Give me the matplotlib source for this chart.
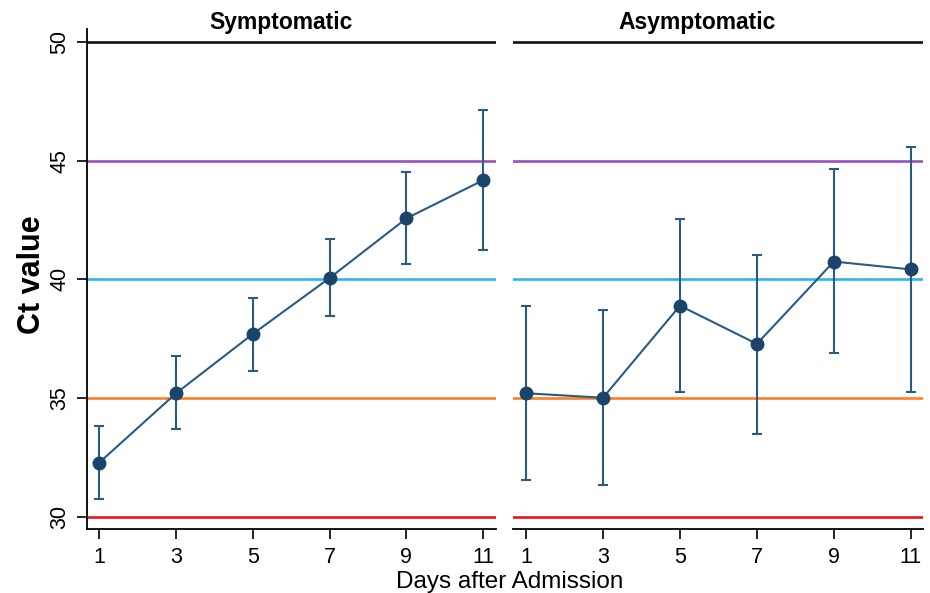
import matplotlib
matplotlib.use("Agg")
import matplotlib.pyplot as plt

plt.rcParams['font.family'] = ['Liberation Sans', 'DejaVu Sans']

days = [1, 3, 5, 7, 9, 11]
panels = ["Symptomatic", "Asymptomatic"]
sym_mean = [32.28, 35.20, 37.70, 40.06, 42.57, 44.18]
sym_low = [30.73, 33.68, 36.14, 38.46, 40.63, 41.25]
sym_high = [33.82, 36.77, 39.23, 41.70, 44.51, 47.15]
asym_mean = [35.20, 35.01, 38.89, 37.28, 40.75, 40.42]
asym_low = [31.55, 31.35, 35.24, 33.50, 36.91, 35.24]
asym_high = [38.89, 38.71, 42.53, 41.03, 44.67, 45.59]
ref_levels = [30, 35, 40, 45, 50]
ref_colors = ["#e8141c", "#ff7f27", "#29b6f6", "#9a4fc4", "#111111"]
y_ticks = [30, 35, 40, 45, 50]

fig = plt.figure(figsize=(9.3, 5.93), dpi=100)
ax1 = fig.add_axes([0.0932, 0.108, 0.440, 0.843])
ax2 = fig.add_axes([0.552, 0.108, 0.441, 0.843])

line_c = "#2b5a85"
mark_c = "#1b446b"

data = [(sym_mean, sym_low, sym_high), (asym_mean, asym_low, asym_high)]
for ax, (m, lo, hi), title in zip([ax1, ax2], data, panels):
    for lev, c in zip(ref_levels, ref_colors):
        ax.axhline(lev, color=c, lw=1.9, zorder=1)
    yerr = [[mi - l for mi, l in zip(m, lo)], [h - mi for mi, h in zip(m, hi)]]
    ax.errorbar(days, m, yerr=yerr, fmt='none', ecolor=line_c, elinewidth=1.5,
                capsize=3.5, capthick=1.5, zorder=3)
    ax.plot(days, m, color=line_c, lw=1.5, zorder=4)
    ax.plot(days, m, 'o', color=mark_c, ms=9, zorder=5)
    ax.set_xlim(0.67, 11.33)
    ax.set_ylim(29.48, 50.55)
    ax.set_xticks(days)
    ax.set_xticklabels([str(d) for d in days], fontsize=15.5)
    ax.tick_params(axis='x', direction='out', length=7, width=1.2, pad=6)
    for s in ['top', 'right']:
        ax.spines[s].set_visible(False)
    ax.spines['bottom'].set_linewidth(1.3)

ax1.set_yticks(y_ticks)
ax1.set_yticklabels([str(v) for v in y_ticks], fontsize=15.5, rotation=90, va='center')
ax1.tick_params(axis='y', direction='out', length=7, width=1.2, pad=5)
ax1.spines['left'].set_linewidth(1.3)

ax2.spines['left'].set_visible(False)
ax2.set_yticks([])

fig.text(281 / 930, 1 - 23 / 593, panels[0], fontsize=16.5, fontweight='bold', ha='center', va='center')
fig.text(697 / 930, 1 - 23 / 593, panels[1], fontsize=16.5, fontweight='bold', ha='center', va='center')
fig.text(32 / 930, 1 - 275 / 593, "Ct value", fontsize=22, fontweight='bold', rotation=90, ha='center', va='center')
fig.text(510 / 930, 1 - 582 / 593, "Days after Admission", fontsize=17.5, ha='center', va='center')

fig.savefig("out.png", dpi=100)
